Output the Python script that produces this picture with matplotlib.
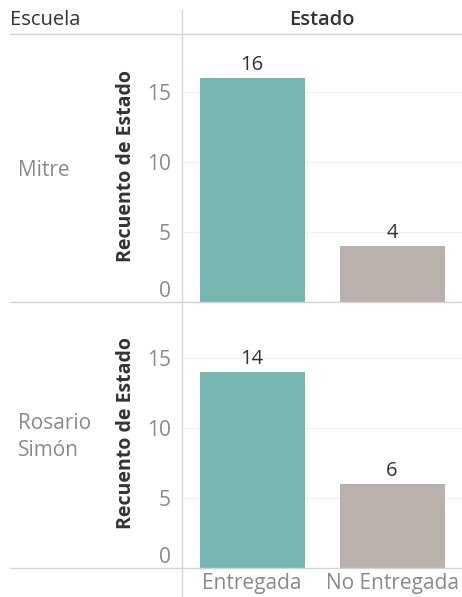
import matplotlib
matplotlib.use("Agg")
import matplotlib.pyplot as plt
from matplotlib.lines import Line2D

plt.rcParams["font.family"] = ["Open Sans", "DejaVu Sans"]

escuelas = ["Mitre", "Rosario\nSimón"]
estados = ["Entregada", "No Entregada"]
recuento = {
    "Mitre": [16, 4],
    "Rosario\nSimón": [14, 6],
}
colores = ["#76b7b2", "#bab0ac"]
yticks = [0, 5, 10, 15]

W, H = 462, 597
fig = plt.figure(figsize=(W / 100, H / 100), dpi=100)

def fx(px):
    return px / W

def fy(py):
    return 1 - py / H

# panel rows (top, bottom) in pixels
rows = [(34, 302), (302, 568)]
gray = "#d4d4d4"
txt_gray = "#8a8a8a"
dark = "#333333"

for (top, bot), esc in zip(rows, escuelas):
    ax = fig.add_axes([fx(182), fy(bot), fx(280), (bot - top) / H])
    vals = recuento[esc]
    ax.bar(range(len(estados)), vals, width=0.75, color=colores)
    for i, v in enumerate(vals):
        ax.text(i, v + 0.25, str(v), ha="center", va="bottom",
                fontsize=14.5, color=dark)
    ax.set_xlim(-0.5, 1.5)
    ax.set_ylim(0, (bot - top) / 14)
    ax.set_yticks(yticks)
    ax.set_yticklabels([str(t) for t in yticks], fontsize=15, color=txt_gray)
    ax.get_yticklabels()[0].set_va("bottom")
    ax.tick_params(axis="y", length=0, pad=8)
    ax.set_xticks([])
    for s in ax.spines.values():
        s.set_visible(False)
    ax.grid(axis="y", color="#f0f0f0", linewidth=0.8)
    ax.set_axisbelow(True)
    mid = (top + bot) / 2
    fig.text(fx(126), fy(mid - 2), "Recuento de Estado", rotation=90,
             ha="center", va="center", fontsize=14, fontweight="bold",
             color=dark)
    fig.text(fx(18), fy(mid + 2), esc, ha="left", va="center",
             fontsize=15, color=txt_gray, linespacing=1.4)

# headers
fig.text(fx(10), fy(20), "Escuela", ha="left", va="center",
         fontsize=14.5, color=dark)
fig.text(fx(322), fy(20), "Estado", ha="center", va="center",
         fontsize=14.5, color=dark, fontweight="semibold")

# x category labels
for i, est in enumerate(estados):
    fig.text(fx(252 + 140 * i), fy(584), est, ha="center", va="center",
             fontsize=15, color=txt_gray)

# grid lines of the table
for y in [34, 302, 568]:
    fig.add_artist(Line2D([fx(10), 1], [fy(y), fy(y)], color=gray, lw=1))
fig.add_artist(Line2D([fx(182), fx(182)], [fy(10), 0], color=gray, lw=1))

fig.savefig("out.png", dpi=100)
